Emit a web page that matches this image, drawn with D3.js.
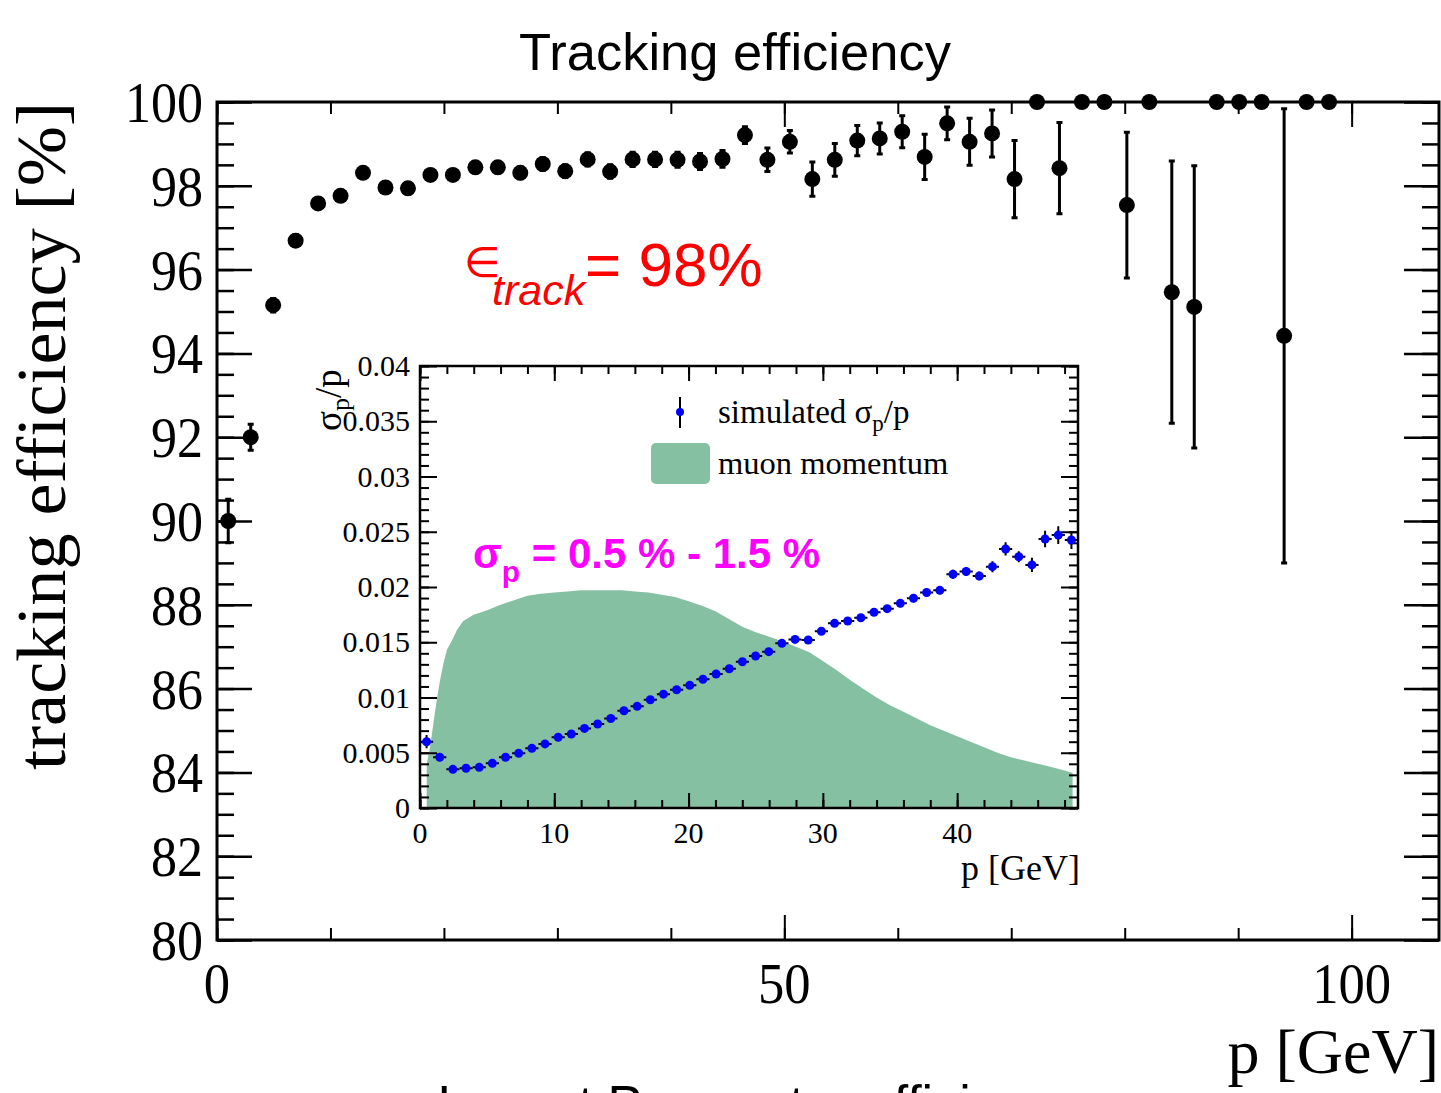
<!DOCTYPE html>
<html>
<head>
<meta charset="utf-8">
<script src="https://cdn.jsdelivr.net/npm/d3@7"></script>
<style>
  body { margin: 0; background: #fff; }
</style>
</head>
<body>
<script>
// main plot: tracking efficiency [%] per 1.98 GeV bin
var effP = [0.99, 2.97, 4.95, 6.93, 8.91, 10.89, 12.87, 14.85, 16.83, 18.81,
	20.79, 22.77, 24.75, 26.73, 28.71, 30.69, 32.67, 34.65, 36.63, 38.61,
	40.59, 42.57, 44.55, 46.53, 48.51, 50.49, 52.47, 54.45, 56.43, 58.41,
	60.39, 62.37, 64.35, 66.33, 68.31, 70.29, 72.27, 74.25, 76.23, 78.21,
	80.19, 82.17, 84.15, 86.13, 88.11, 90.09, 92.07, 94.05, 96.03, 98.01]
var effVal = [90.0, 92.0, 95.15, 96.69, 97.58, 97.76, 98.31, 97.96, 97.94, 98.26,
	98.26, 98.44, 98.44, 98.31, 98.52, 98.35, 98.63, 98.34, 98.63, 98.63,
	98.62, 98.58, 98.64, 99.21, 98.62, 99.05, 98.16, 98.62, 99.08, 99.13,
	99.29, 98.69, 99.49, 99.05, 99.25, 98.16, 100, 98.42, 100, 100,
	97.54, 100, 95.46, 95.11, 100, 100, 100, 94.42, 100, 100]
var effErr = [0.52, 0.31, 0.16, 0.14, 0.12, 0.12, 0.12, 0.13, 0.13, 0.13,
	0.13, 0.13, 0.14, 0.14, 0.15, 0.15, 0.16, 0.16, 0.17, 0.17,
	0.18, 0.19, 0.2, 0.2, 0.28, 0.27, 0.41, 0.39, 0.36, 0.37,
	0.38, 0.54, 0.39, 0.56, 0.56, 0.92, 0, 1.09, 0, 0,
	1.74, 0, 3.13, 3.37, 0, 0, 0, 5.42, 0, 0]

// inset: simulated sigma_p / p per 0.98 GeV bin
var resP = [0.49, 1.47, 2.45, 3.43, 4.41, 5.39, 6.37, 7.35, 8.33, 9.31,
	10.29, 11.27, 12.25, 13.23, 14.21, 15.19, 16.17, 17.15, 18.13, 19.11,
	20.09, 21.07, 22.05, 23.03, 24.01, 24.99, 25.97, 26.95, 27.93, 28.91,
	29.89, 30.87, 31.85, 32.83, 33.81, 34.79, 35.77, 36.75, 37.73, 38.71,
	39.69, 40.67, 41.65, 42.63, 43.61, 44.59, 45.57, 46.55, 47.53, 48.51]
var resVal = [0.0060, 0.00459, 0.0035, 0.0036, 0.00368, 0.00404, 0.00459, 0.00495, 0.0054, 0.0058,
	0.0064, 0.0067, 0.0072, 0.0076, 0.0081, 0.0088, 0.0092, 0.0098, 0.0103, 0.0107,
	0.0111, 0.01165, 0.01213, 0.0126, 0.01324, 0.01376, 0.01415, 0.0149, 0.01526, 0.0152,
	0.0160, 0.01671, 0.01692, 0.01722, 0.01771, 0.01804, 0.01852, 0.01898, 0.0195, 0.0197,
	0.02115, 0.0214, 0.0210, 0.02184, 0.02344, 0.02274, 0.0220, 0.02434, 0.0247, 0.02425]
var resErr = [0.0006, 0.0003, 0.0002, 0.00015, 0.00015, 0.00015, 0.00015, 0.00015, 0.00015, 0.00015,
	0.00015, 0.00015, 0.00015, 0.00015, 0.0002, 0.0002, 0.0002, 0.0002, 0.0002, 0.0002,
	0.0002, 0.0002, 0.0002, 0.0002, 0.0002, 0.00025, 0.00025, 0.00025, 0.00025, 0.00025,
	0.0003, 0.0003, 0.0003, 0.0003, 0.0003, 0.0003, 0.00035, 0.00035, 0.00035, 0.00035,
	0.0004, 0.0004, 0.0004, 0.0005, 0.0006, 0.0005, 0.00065, 0.00075, 0.0008, 0.0008]

// inset: muon momentum spectrum (arbitrary scale, drawn on the sigma axis)
var muonP = [0.5, 0.75, 1.0, 1.25, 1.5, 1.75, 2.0, 2.4, 2.75, 3.2, 4, 5, 6, 7, 8, 9, 10,
	11, 12, 13, 14, 15, 16, 17, 18, 19, 20, 21, 22, 23, 24, 25, 26, 27, 28, 29, 30,
	31, 32, 33, 34, 35, 36, 37, 38, 39, 40, 41, 42, 43, 44, 45, 46, 47, 48, 48.6]
var muonVal = [0.0040, 0.0055, 0.0077, 0.0098, 0.0116, 0.0131, 0.0143, 0.0152, 0.0161, 0.0169, 0.0175, 0.0179, 0.0184, 0.0188, 0.0192, 0.0194, 0.0195,
	0.0196, 0.0197, 0.0197, 0.0197, 0.0197, 0.0196, 0.0195, 0.0193, 0.0191, 0.0187, 0.0183, 0.0178, 0.0171, 0.0164, 0.0159, 0.0155, 0.0151, 0.0146, 0.0141, 0.0133,
	0.0125, 0.0116, 0.0108, 0.0100, 0.0093, 0.0087, 0.0081, 0.0075, 0.0070, 0.0065, 0.0060, 0.0055, 0.0050, 0.0046, 0.0043, 0.0040, 0.0037, 0.0034, 0.0032]

var effTicks = [80, 82, 84, 86, 88, 90, 92, 94, 96, 98, 100]
var pTicks = [0, 50, 100]
var resTicks = [0, 0.005, 0.01, 0.015, 0.02, 0.025, 0.03, 0.035, 0.04]
var resTickLabels = ['0', '0.005', '0.01', '0.015', '0.02', '0.025', '0.03', '0.035', '0.04']
var resPTicks = [0, 10, 20, 30, 40]

var W = 1441, H = 1093
var serif = "'Liberation Serif', 'Times New Roman', serif"
var sans = "'Liberation Sans', Arial, 'DejaVu Sans', sans-serif"

var svg = d3.select('body').append('svg').attr('width', W).attr('height', H)
svg.append('rect').attr('width', W).attr('height', H).attr('fill', '#fff')

function tickAxis(g, axis, values, size, width) {
	g.call(axis.tickValues(values).tickSize(size).tickFormat(''))
	g.select('.domain').remove()
	g.selectAll('line').attr('stroke', '#000').attr('stroke-width', width)
}

// ---------- main plot ----------
var x = d3.scaleLinear().domain([0, 107.7]).range([217, 1439])
var y = d3.scaleLinear().domain([80, 100]).range([940, 102])

svg.append('text').text('Tracking efficiency')
	.attr('x', 735).attr('y', 70).attr('text-anchor', 'middle')
	.attr('font-family', sans).attr('font-size', 52.5)

// cut-off slide heading below the plot (only the tops of tall letters show)
svg.append('text').text('Impact Parameter efficiency')
	.attr('x', 437).attr('y', 1122)
	.attr('font-family', sans).attr('font-size', 52)

var yMinor = d3.range(80, 100.01, 0.5), xMinor = d3.range(0, 107, 10)
tickAxis(svg.append('g').attr('transform', 'translate(217,0)'), d3.axisLeft(y), yMinor, -17, 2.5)
tickAxis(svg.append('g').attr('transform', 'translate(217,0)'), d3.axisLeft(y), effTicks, -35, 2.5)
tickAxis(svg.append('g').attr('transform', 'translate(1439,0)'), d3.axisRight(y), yMinor, -17, 2.5)
tickAxis(svg.append('g').attr('transform', 'translate(1439,0)'), d3.axisRight(y), effTicks, -35, 2.5)
tickAxis(svg.append('g').attr('transform', 'translate(0,940)'), d3.axisBottom(x), xMinor, -12, 2)
tickAxis(svg.append('g').attr('transform', 'translate(0,940)'), d3.axisBottom(x), pTicks, -25, 2)
tickAxis(svg.append('g').attr('transform', 'translate(0,102)'), d3.axisTop(x), xMinor, -12, 2)
tickAxis(svg.append('g').attr('transform', 'translate(0,102)'), d3.axisTop(x), pTicks, -25, 2)

svg.append('rect').attr('x', x(0)).attr('y', y(100))
	.attr('width', x(107.7) - x(0)).attr('height', y(80) - y(100))
	.attr('fill', 'none').attr('stroke', '#000').attr('stroke-width', 3)

svg.append('g').selectAll('text').data(effTicks).enter().append('text')
	.text(function(d) { return d })
	.attr('x', 203).attr('y', function(d) { return y(d) + 20 })
	.attr('text-anchor', 'end').attr('font-family', serif).attr('font-size', 58)
	.attr('textLength', function(d) { return String(d).length * 26 })
	.attr('lengthAdjust', 'spacingAndGlyphs')

svg.append('g').selectAll('text').data(pTicks).enter().append('text')
	.text(function(d) { return d })
	.attr('x', function(d) { return x(d) }).attr('y', 1003)
	.attr('text-anchor', 'middle').attr('font-family', serif).attr('font-size', 56)
	.attr('textLength', function(d) { return String(d).length * 26.3 })
	.attr('lengthAdjust', 'spacingAndGlyphs')

svg.append('text').text('p [GeV]')
	.attr('x', 1439).attr('y', 1073).attr('text-anchor', 'end')
	.attr('font-family', serif).attr('font-size', 64)

svg.append('text').text('tracking efficiency [%]')
	.attr('transform', 'translate(65,436) rotate(-90)').attr('text-anchor', 'middle')
	.attr('font-family', serif).attr('font-size', 70)
	.attr('textLength', 668).attr('lengthAdjust', 'spacingAndGlyphs')

var effData = effP.map(function(p, i) { return {p: p, v: effVal[i], e: effErr[i]} })
var effG = svg.append('g')
effG.selectAll('.bar').data(effData.filter(function(d) { return d.e > 0 })).enter().append('path')
	.attr('class', 'bar')
	.attr('d', function(d) {
		var cx = x(d.p), y1 = y(d.v + d.e), y2 = y(d.v - d.e)
		return 'M' + cx + ',' + y1 + 'V' + y2 + 'M' + (cx - 3) + ',' + y1 + 'H' + (cx + 3) + 'M' + (cx - 3) + ',' + y2 + 'H' + (cx + 3)
	})
	.attr('stroke', '#000').attr('stroke-width', 3).attr('fill', 'none')
effG.selectAll('circle').data(effData).enter().append('circle')
	.attr('cx', function(d) { return x(d.p) })
	.attr('cy', function(d) { return y(d.v) })
	.attr('r', 8).attr('fill', '#000')

// red annotation
var eps = svg.append('text').attr('fill', '#ff0000').attr('font-family', sans)
eps.append('tspan').text('\u2208').attr('x', 464).attr('y', 277).attr('font-size', 42)
eps.append('tspan').text('track').attr('x', 492).attr('y', 305).attr('font-size', 43).attr('font-style', 'italic')
eps.append('tspan').text('= 98%').attr('x', 585).attr('y', 286).attr('font-size', 62)

// ---------- inset ----------
var xi = d3.scaleLinear().domain([0, 49]).range([420, 1078])
var yi = d3.scaleLinear().domain([0, 0.04]).range([808, 366])

svg.append('rect').attr('x', xi(0)).attr('y', yi(0.04))
	.attr('width', xi(49) - xi(0)).attr('height', yi(0) - yi(0.04)).attr('fill', '#fff')

var muonArea = d3.area()
	.x(function(d) { return xi(d[0]) })
	.y0(yi(0))
	.y1(function(d) { return yi(d[1]) })
svg.append('path').datum(muonP.map(function(p, i) { return [p, muonVal[i]] }))
	.attr('d', muonArea).attr('fill', '#85c0a3')

var riMinor = d3.range(0, 0.04005, 0.001), rxMinor = d3.range(0, 49, 2)
tickAxis(svg.append('g').attr('transform', 'translate(420,0)'), d3.axisLeft(yi), riMinor, -9, 2)
tickAxis(svg.append('g').attr('transform', 'translate(420,0)'), d3.axisLeft(yi), resTicks, -17, 2)
tickAxis(svg.append('g').attr('transform', 'translate(1078,0)'), d3.axisRight(yi), riMinor, -9, 2)
tickAxis(svg.append('g').attr('transform', 'translate(1078,0)'), d3.axisRight(yi), resTicks, -17, 2)
tickAxis(svg.append('g').attr('transform', 'translate(0,808)'), d3.axisBottom(xi), rxMinor, -8, 2)
tickAxis(svg.append('g').attr('transform', 'translate(0,808)'), d3.axisBottom(xi), resPTicks, -15, 2)
tickAxis(svg.append('g').attr('transform', 'translate(0,366)'), d3.axisTop(xi), rxMinor, -8, 2)
tickAxis(svg.append('g').attr('transform', 'translate(0,366)'), d3.axisTop(xi), resPTicks, -15, 2)

svg.append('rect').attr('x', xi(0)).attr('y', yi(0.04))
	.attr('width', xi(49) - xi(0)).attr('height', yi(0) - yi(0.04))
	.attr('fill', 'none').attr('stroke', '#000').attr('stroke-width', 2.5)

svg.append('g').selectAll('text').data(resTicks).enter().append('text')
	.text(function(d, i) { return resTickLabels[i] })
	.attr('x', 410).attr('y', function(d) { return yi(d) + 10 })
	.attr('text-anchor', 'end').attr('font-family', serif).attr('font-size', 30)

svg.append('g').selectAll('text').data(resPTicks).enter().append('text')
	.text(function(d) { return d })
	.attr('x', function(d) { return xi(d) }).attr('y', 843)
	.attr('text-anchor', 'middle').attr('font-family', serif).attr('font-size', 30)

svg.append('text').text('p [GeV]')
	.attr('x', 1080).attr('y', 880).attr('text-anchor', 'end')
	.attr('font-family', serif).attr('font-size', 36)

var yt = svg.append('text').attr('transform', 'translate(341,431) rotate(-90)')
	.attr('font-family', serif).attr('font-size', 37)
yt.append('tspan').text('\u03c3')
yt.append('tspan').text('p').attr('font-size', 26).attr('dy', 8)
yt.append('tspan').text('/p').attr('dy', -8)

var resData = resP.map(function(p, i) { return {p: p, v: resVal[i], e: resErr[i]} })
var resG = svg.append('g')
resG.selectAll('path').data(resData).enter().append('path')
	.attr('d', function(d) {
		var cx = xi(d.p), cy = yi(d.v)
		return 'M' + xi(d.p - 0.49) + ',' + cy + 'H' + xi(d.p + 0.49) +
			'M' + cx + ',' + yi(d.v + d.e) + 'V' + yi(d.v - d.e)
	})
	.attr('stroke', '#000').attr('stroke-width', 2).attr('fill', 'none')
resG.selectAll('circle').data(resData).enter().append('circle')
	.attr('cx', function(d) { return xi(d.p) })
	.attr('cy', function(d) { return yi(d.v) })
	.attr('r', 4.5).attr('fill', '#0000ff')

// legend
var leg = svg.append('g')
leg.append('line').attr('x1', 680).attr('x2', 680).attr('y1', 397).attr('y2', 428)
	.attr('stroke', '#000').attr('stroke-width', 2)
leg.append('circle').attr('cx', 680).attr('cy', 412).attr('r', 4).attr('fill', '#0000ff')
var l1 = leg.append('text').attr('x', 718).attr('y', 423).attr('font-family', serif).attr('font-size', 33)
l1.append('tspan').text('simulated \u03c3')
l1.append('tspan').text('p').attr('font-size', 23).attr('dy', 8)
l1.append('tspan').text('/p').attr('dy', -8)
leg.append('rect').attr('x', 651).attr('y', 443).attr('width', 59).attr('height', 41)
	.attr('rx', 5).attr('fill', '#85c0a3')
leg.append('text').text('muon momentum').attr('x', 718).attr('y', 474)
	.attr('font-family', serif).attr('font-size', 32.5)

// magenta annotation
var sig = svg.append('text').attr('x', 473).attr('y', 568).attr('fill', '#ff00ff')
	.attr('font-family', sans).attr('font-size', 42).attr('font-weight', 'bold')
sig.append('tspan').text('\u03c3')
sig.append('tspan').text('p').attr('font-size', 30).attr('dy', 14)
sig.append('tspan').text(' = 0.5 % - 1.5 %').attr('dy', -14)
</script>
</body>
</html>
